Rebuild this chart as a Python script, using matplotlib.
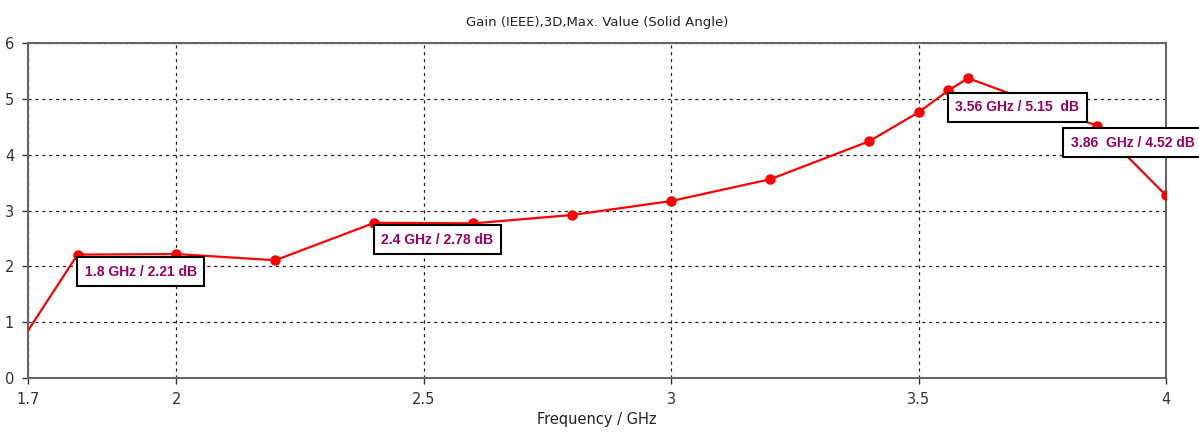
import matplotlib.pyplot as plt

# Gain vs frequency, max value over solid angle
freq_ghz = [1.7, 1.8, 2.0, 2.2, 2.4, 2.6, 2.8, 3.0, 3.2, 3.4, 3.5, 3.56, 3.6, 3.86, 4.0]
gain_db = [0.85, 2.21, 2.22, 2.11, 2.78, 2.77, 2.92, 3.17, 3.56, 4.24, 4.76, 5.15, 5.37, 4.52, 3.27]

# marker labels: (frequency, gain, text, box offset in px)
LABELS = [
    (1.8, 2.21, "1.8 GHz / 2.21 dB", 0),
    (2.4, 2.78, "2.4 GHz / 2.78 dB", 0),
    (3.56, 5.15, "3.56 GHz / 5.15  dB", 0),
    (3.86, 4.52, "3.86  GHz / 4.52 dB", -33),
]

X_TICKS = [1.7, 2, 2.5, 3, 3.5, 4]
X_TICK_LABELS = ["1.7", "2", "2.5", "3", "3.5", "4"]
Y_TICKS = [0, 1, 2, 3, 4, 5, 6]

plt.rcParams['font.family'] = ['DejaVu Sans']

fig = plt.figure(figsize=(11.99, 4.34), dpi=100)
ax = fig.add_axes([0.0234, 0.129, 0.9491, 0.7719])

ax.plot(freq_ghz, gain_db, color='#ff0000', linewidth=1.6,
        marker='o', markersize=6.5, markevery=list(range(1, len(freq_ghz))), zorder=3)

ax.set_xlim(1.7, 4.0)
ax.set_ylim(0, 6)
ax.set_xticks(X_TICKS)
ax.set_xticklabels(X_TICK_LABELS)
ax.set_yticks(Y_TICKS)
ax.tick_params(colors='#333333', labelsize=10.5, length=4, width=1, direction='out', pad=6)

for s in ax.spines.values():
    s.set_color('#666666')
    s.set_linewidth(1.5)

ax.grid(True, color='#222222', linestyle=(0, (2.5, 3)), linewidth=0.9)
ax.set_axisbelow(True)

ax.set_title("Gain (IEEE),3D,Max. Value (Solid Angle)", fontsize=9.5, color='#222222', pad=12)
ax.set_xlabel("Frequency / GHz", fontsize=10.5, color='#222222', labelpad=4)

# boxed value labels, top-left corner sitting on the marker
for fx, gy, txt, dx in LABELS:
    ax.annotate(txt, xy=(fx, gy), xytext=(dx + 7, -10), textcoords='offset pixels',
                ha='left', va='top', fontsize=10, color='#990066', fontweight='bold',
                family=['Liberation Sans', 'DejaVu Sans'],
                bbox=dict(boxstyle='square,pad=0.55', fc='white', ec='black', lw=1.5),
                annotation_clip=False, zorder=5)

fig.savefig('out.png', dpi=100)
